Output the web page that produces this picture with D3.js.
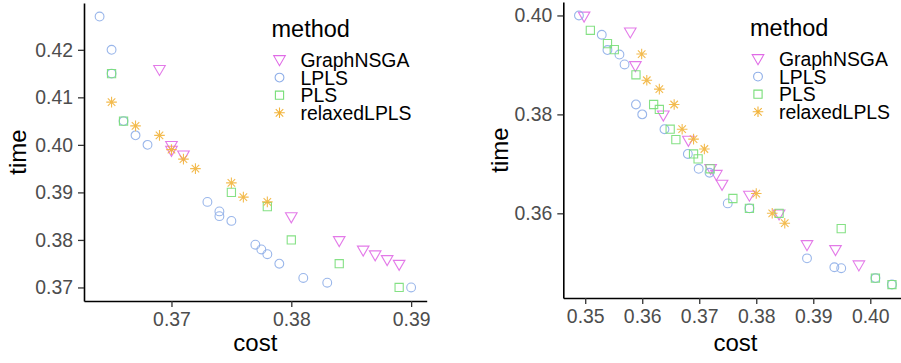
<!DOCTYPE html>
<html><head><meta charset="utf-8">
<script src="https://cdn.jsdelivr.net/npm/d3@7"></script>
<style>
body{margin:0;background:#fff;}
svg{display:block;font-family:"Liberation Sans",Arial,sans-serif;}
</style></head>
<body><svg id="c" width="901" height="363"></svg>
<script>
// ---- data ----
const methods = ["GraphNSGA","LPLS","PLS","relaxedLPLS"];
const xTicksLeft = [0.37,0.38,0.39];
const yTicksLeft = [0.37,0.38,0.39,0.40,0.41,0.42];
const xTicksRight = [0.35,0.36,0.37,0.38,0.39,0.40];
const yTicksRight = [0.36,0.38,0.40];

// left panel: [cost, time]
const leftGraphNSGA = [[0.369,0.416],[0.370,0.400],[0.370,0.399],[0.371,0.398],[0.380,0.385],[0.384,0.380],[0.386,0.378],[0.387,0.377],[0.388,0.376],[0.389,0.375]];
const leftLPLS = [[0.364,0.427],[0.365,0.420],[0.365,0.415],[0.366,0.405],[0.367,0.402],[0.368,0.400],[0.373,0.388],[0.374,0.386],[0.374,0.385],[0.375,0.384],[0.377,0.379],[0.3775,0.378],[0.378,0.377],[0.379,0.375],[0.381,0.372],[0.383,0.371],[0.390,0.370]];
const leftPLS = [[0.365,0.415],[0.366,0.405],[0.375,0.390],[0.378,0.387],[0.380,0.380],[0.384,0.375],[0.389,0.370]];
const leftRelaxedLPLS = [[0.365,0.409],[0.367,0.404],[0.369,0.402],[0.370,0.399],[0.371,0.397],[0.372,0.395],[0.375,0.392],[0.376,0.389],[0.378,0.388]];

// right panel: [cost, time]
const rightGraphNSGA = [[0.3498,0.400],[0.3579,0.3968],[0.3588,0.390],[0.3637,0.380],[0.3681,0.3749],[0.372,0.3692],[0.373,0.368],[0.374,0.366],[0.3788,0.3638],[0.384,0.360],[0.3889,0.3538],[0.3939,0.3528],[0.398,0.3497]];
const rightLPLS = [[0.3489,0.400],[0.3529,0.3961],[0.3539,0.393],[0.356,0.3921],[0.3569,0.3901],[0.3589,0.382],[0.360,0.380],[0.3639,0.377],[0.368,0.372],[0.3699,0.369],[0.3718,0.3682],[0.375,0.362],[0.3788,0.361],[0.3889,0.3509],[0.3937,0.3491],[0.3949,0.3489],[0.4009,0.3469],[0.4038,0.3456]];
const rightPLS = [[0.3509,0.397],[0.3539,0.3943],[0.3551,0.3931],[0.3589,0.388],[0.362,0.382],[0.363,0.381],[0.3649,0.377],[0.3659,0.3749],[0.369,0.372],[0.3698,0.371],[0.3719,0.369],[0.3759,0.363],[0.3788,0.361],[0.384,0.360],[0.3949,0.3569],[0.4009,0.3469],[0.4038,0.3456]];
const rightRelaxedLPLS = [[0.3599,0.3922],[0.3608,0.3869],[0.363,0.3851],[0.3656,0.382],[0.367,0.377],[0.369,0.375],[0.3709,0.373],[0.380,0.364],[0.3828,0.360],[0.385,0.358]];

// ---- styling ----
const colors = {GraphNSGA:"#E06BE6", LPLS:"#8EAEE8", PLS:"#78DE78", relaxedLPLS:"#F2B43C"};
const svg = d3.select("#c");

function symbolPath(m, x, y){
  if(m==="GraphNSGA"){
    const b=4.3, r=1.555*b, xc=1.3468*b, yc=r/2;
    return `M${x-xc},${y-yc}L${x+xc},${y-yc}L${x},${y+r}Z`;
  }
  if(m==="LPLS"){
    const r=4.4;
    return `M${x-r},${y}A${r},${r} 0 1,0 ${x+r},${y}A${r},${r} 0 1,0 ${x-r},${y}Z`;
  }
  if(m==="PLS"){
    const h=4.1;
    return `M${x-h},${y-h}H${x+h}V${y+h}H${x-h}Z`;
  }
  const h=5.3, d=h*0.7071;
  return `M${x-h},${y}H${x+h}M${x},${y-h}V${y+h}M${x-d},${y-d}L${x+d},${y+d}M${x-d},${y+d}L${x+d},${y-d}`;
}

function expand(ext){ const r=ext[1]-ext[0]; return [ext[0]-0.05*r, ext[1]+0.05*r]; }

function panel(cfg){
  const all = cfg.series.flatMap(s=>s.data);
  const x = d3.scaleLinear().domain(expand(d3.extent(all,d=>d[0]))).range([cfg.x0,cfg.x1]);
  const y = d3.scaleLinear().domain(expand(d3.extent(all,d=>d[1]))).range([cfg.y1,cfg.y0]);
  const g = svg.append("g");

  // points
  cfg.series.forEach(s=>{
    g.append("g").selectAll("path").data(s.data).join("path")
      .attr("d",d=>symbolPath(s.m, x(d[0]), y(d[1])))
      .attr("fill","none").attr("stroke",colors[s.m]).attr("stroke-width",1.1)
      .attr("stroke-opacity",0.9);
  });

  const ax = g.append("g").attr("transform",`translate(0,${cfg.y1})`)
    .call(d3.axisBottom(x).tickValues(cfg.xt).tickFormat(d3.format(".2f")).tickSize(6).tickSizeOuter(0).tickPadding(5));
  const ay = g.append("g").attr("transform",`translate(${cfg.x0},0)`)
    .call(d3.axisLeft(y).tickValues(cfg.yt).tickFormat(d3.format(".2f")).tickSize(6).tickSizeOuter(0).tickPadding(5));
  [ax,ay].forEach(a=>{
    a.select(".domain").attr("stroke","#000").attr("stroke-width",1.6);
    a.selectAll(".tick line").attr("stroke","#333").attr("stroke-width",1.3);
    a.selectAll(".tick text").attr("fill","#4D4D4D").style("font-size","19.4px")
      .style("font-family",'"Liberation Sans",Arial,sans-serif');
  });

  g.append("text").attr("x",(cfg.x0+cfg.x1)/2).attr("y",351).attr("text-anchor","middle")
    .style("font-size","24px").attr("fill","#000").text("cost");
  g.append("text").attr("transform",`translate(${cfg.tx},${(cfg.y0+cfg.y1)/2}) rotate(-90)`)
    .attr("text-anchor","middle").style("font-size","24px").attr("fill","#000").text("time");

  // legend
  const lg = g.append("g");
  lg.append("text").attr("x",cfg.lx).attr("y",cfg.ly).style("font-size","23.5px").attr("fill","#000").text("method");
  methods.forEach((m,i)=>{
    const cy = cfg.ly+23+i*17.6;
    lg.append("path").attr("d",symbolPath(m,cfg.lx+8,cy+(m==="GraphNSGA"?-1:0)))
      .attr("fill","none").attr("stroke",colors[m]).attr("stroke-width",1.1);
    lg.append("text").attr("x",cfg.lx+29).attr("y",cy).attr("dy","0.36em")
      .style("font-size","19.4px").attr("fill","#000").text(m);
  });
}

panel({x0:84,x1:426.7,y0:3,y1:301,xt:xTicksLeft,yt:yTicksLeft,tx:26,lx:271.5,ly:37,
  series:[{m:"GraphNSGA",data:leftGraphNSGA},{m:"LPLS",data:leftLPLS},{m:"PLS",data:leftPLS},{m:"relaxedLPLS",data:leftRelaxedLPLS}]});
panel({x0:563.3,x1:907.6,y0:2,y1:298,xt:xTicksRight,yt:yTicksRight,tx:508,lx:750,ly:36,
  series:[{m:"GraphNSGA",data:rightGraphNSGA},{m:"LPLS",data:rightLPLS},{m:"PLS",data:rightPLS},{m:"relaxedLPLS",data:rightRelaxedLPLS}]});
</script></body></html>
